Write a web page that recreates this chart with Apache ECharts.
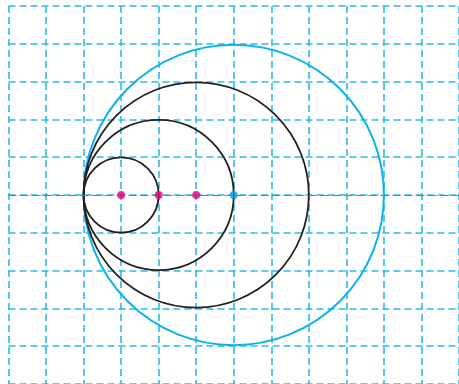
<!DOCTYPE html>
<html>
<head>
<meta charset="utf-8">
<script src="https://cdn.jsdelivr.net/npm/echarts@6/dist/echarts.min.js"></script>
<style>
  html, body { margin: 0; padding: 0; background: #fff; }
  #chart { width: 459px; height: 384px; }
</style>
</head>
<body>
<div id="chart"></div>
<script>
// circles: [centerX, centerY, radius] in grid units
const blackCircles = [[3, 5, 1], [4, 5, 2], [5, 5, 3]]
const cyanCircles = [[6, 5, 4]]
// centre points
const magentaPoints = [[3, 5], [4, 5], [5, 5]]
const cyanPoints = [[6, 5]]
const centerLineY = 5

const unit = 37.85
const gridColor = '#2cb9ec'

const chart = echarts.init(document.getElementById('chart'))

function circleItem(color, width) {
  return function (params, api) {
    const c = api.coord([api.value(0), api.value(1)])
    const r = api.size([api.value(2), 0])[0]
    return {
      type: 'circle',
      shape: { cx: c[0], cy: c[1], r: r },
      style: { fill: 'none', stroke: color, lineWidth: width },
    }
  }
}

chart.setOption({
  animation: false,
  grid: { left: 8.5, top: 6, width: unit * 12, height: unit * 10 },
  xAxis: {
    type: 'value',
    min: 0,
    max: 12,
    interval: 1,
    axisLine: { show: false },
    axisTick: { show: false },
    axisLabel: { show: false },
    splitLine: { show: true, lineStyle: { color: gridColor, width: 1.6, type: [7, 4] } },
  },
  yAxis: {
    type: 'value',
    min: 0,
    max: 10,
    interval: 1,
    axisLine: { show: false },
    axisTick: { show: false },
    axisLabel: { show: false },
    splitLine: { show: true, lineStyle: { color: gridColor, width: 1.6, type: [7, 4] } },
  },
  series: [
    {
      type: 'custom',
      renderItem: circleItem('#0db1ed', 2),
      data: cyanCircles,
      silent: true,
      z: 3,
      markLine: {
        silent: true,
        symbol: ['none', 'none'],
        label: { show: false },
        lineStyle: { color: '#1b9ad6', width: 1.2, type: [8, 4] },
        data: [{ yAxis: centerLineY }],
      },
    },
    {
      type: 'custom',
      renderItem: circleItem('#231f20', 1.8),
      data: blackCircles,
      silent: true,
      z: 4,
    },
    {
      type: 'scatter',
      data: magentaPoints,
      symbolSize: 8,
      itemStyle: { color: '#e5007e' },
      z: 5,
    },
    {
      type: 'scatter',
      data: cyanPoints,
      symbolSize: 8,
      itemStyle: { color: '#00a0e4' },
      z: 5,
    },
  ],
})
</script>
</body>
</html>
